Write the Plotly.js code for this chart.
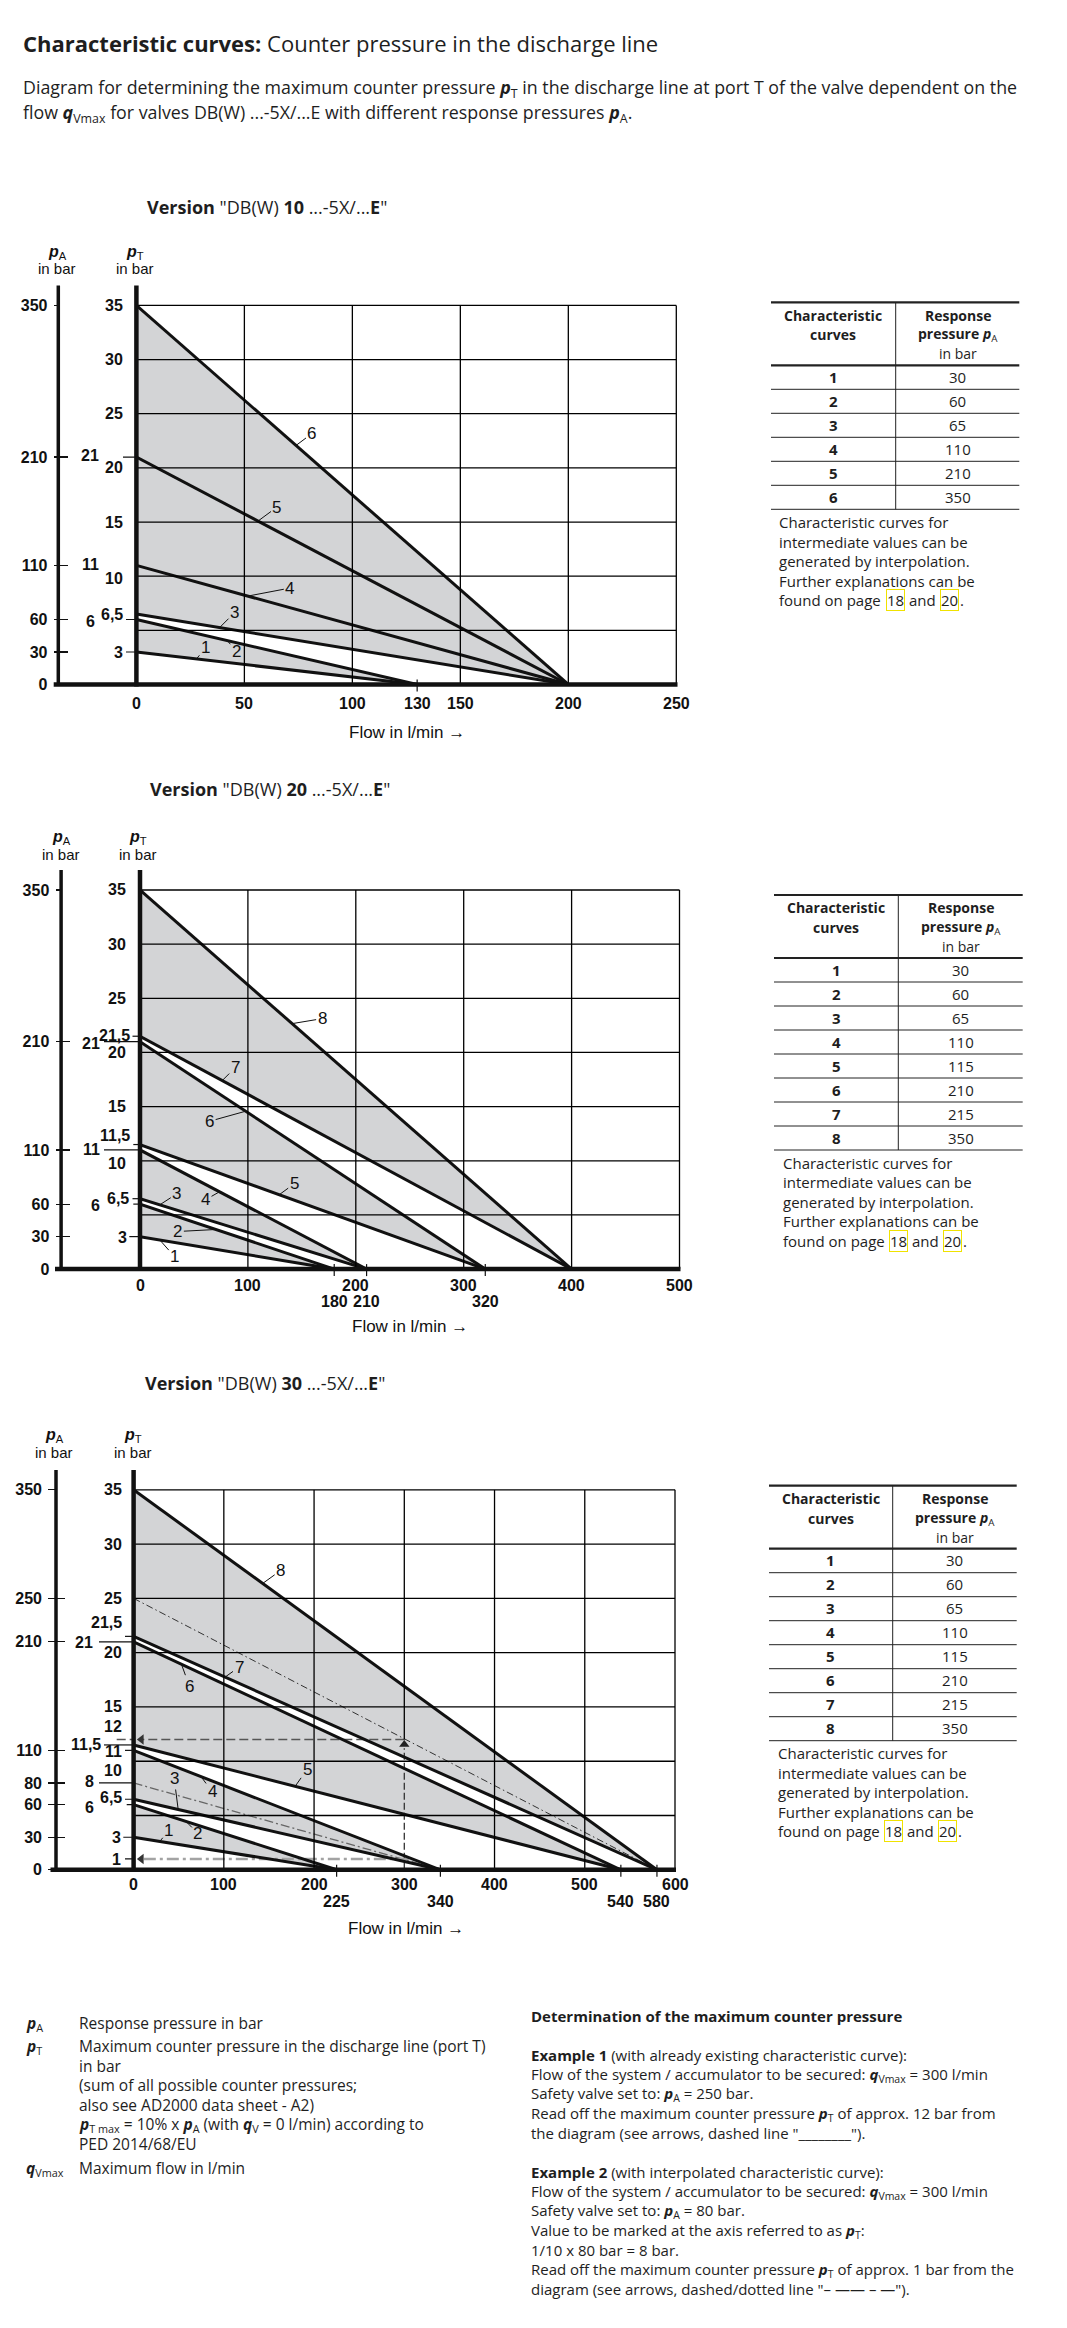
<!DOCTYPE html>
<html><head><meta charset="utf-8">
<script src="https://cdn.plot.ly/plotly-3.0.1.min.js"></script>
<style>html,body{margin:0;padding:0;background:#fff}#page{width:1067px;height:2328px}</style>
</head><body><div id="page"></div>
<script>
// ================= DATA =================
const headerTitle = '<b>Characteristic curves:</b> Counter pressure in the discharge line';
const headerLine1 = 'Diagram for determining the maximum counter pressure <b><i>p</i></b><sub>T</sub> in the discharge line at port T of the valve dependent on the';
const headerLine2 = 'flow <b><i>q</i></b><sub>Vmax</sub> for valves DB(W) ...-5X/...E with different response pressures <b><i>p</i></b><sub>A</sub>.';

const c1Title = '<b>Version</b> "DB(W) <b>10</b> ...-5X/...<b>E</b>"';
const c1Curves = ['1','2','3','4','5','6'];
const c1StartPT = [3, 6, 6.5, 11, 21, 35];
const c1EndFlow = [130, 130, 200, 200, 200, 200];
const c1GrayPairs = [[0,1],[2,5]];
const c1XLabels = [0, 50, 100, 130, 150, 200, 250];
const c1XLabels2 = [];
const c1XMarks = [130];
const c1XGrid = [50, 100, 150, 200];
const c1XMax = 250;
const c1PALabels = [0, 30, 60, 110, 210, 350];
const c1PTText = ['35','30','25','20','15','10','21','11','6,5','6','3'];
const c1PTVal  = [35, 30, 25, 20, 15, 10, 21, 11, 6.5, 6, 3];

const c2Title = '<b>Version</b> "DB(W) <b>20</b> ...-5X/...<b>E</b>"';
const c2Curves = ['1','2','3','4','5','6','7','8'];
const c2StartPT = [3, 6, 6.5, 11, 11.5, 21, 21.5, 35];
const c2EndFlow = [180, 180, 210, 210, 320, 320, 400, 400];
const c2GrayPairs = [[0,1],[2,3],[4,5],[6,7]];
const c2XLabels = [0, 100, 200, 300, 400, 500];
const c2XLabels2 = [180, 210, 320];
const c2XMarks = [180, 210, 320];
const c2XGrid = [100, 200, 300, 400];
const c2XMax = 500;
const c2PALabels = [0, 30, 60, 110, 210, 350];
const c2PTText = ['35','30','25','20','15','10','21,5','21','11,5','11','6,5','6','3'];
const c2PTVal  = [35, 30, 25, 20, 15, 10, 21.5, 21, 11.5, 11, 6.5, 6, 3];

const c3Title = '<b>Version</b> "DB(W) <b>30</b> ...-5X/...<b>E</b>"';
const c3Curves = ['1','2','3','4','5','6','7','8'];
const c3StartPT = [3, 6, 6.5, 11, 11.5, 21, 21.5, 35];
const c3EndFlow = [225, 225, 340, 340, 540, 540, 580, 580];
const c3GrayPairs = [[0,1],[2,3],[4,5],[6,7]];
const c3XLabels = [0, 100, 200, 300, 400, 500, 600];
const c3XLabels2 = [225, 340, 540, 580];
const c3XMarks = [225, 340, 540, 580];
const c3XGrid = [100, 200, 400, 500];
const c3XMax = 600;
const c3PALabels = [0, 30, 60, 80, 110, 210, 250, 350];
const c3PTText = ['35','30','25','21,5','21','20','15','12','11,5','11','10','8','6,5','6','3','1'];
const c3PTVal  = [35, 30, 25, 21.5, 21, 20, 15, 12, 11.5, 11, 10, 8, 6.5, 6, 3, 1];

// worked examples drawn in chart 3
const ex1StartPT = 25, ex1EndFlow = 580, ex1Flow = 300, ex1ReadPT = 12;
const ex2StartPT = 8,  ex2EndFlow = 340, ex2Flow = 300, ex2ReadPT = 1;

const pTGrid = [5, 10, 15, 20, 25, 30];
const pTMax = 35, pAMax = 350;

// tables
const t1Curves = ['1','2','3','4','5','6'];
const t1PA = [30, 60, 65, 110, 210, 350];
const t2Curves = ['1','2','3','4','5','6','7','8'];
const t2PA = [30, 60, 65, 110, 115, 210, 215, 350];
const t3Curves = ['1','2','3','4','5','6','7','8'];
const t3PA = [30, 60, 65, 110, 115, 210, 215, 350];
const noteLines = ['Characteristic curves for', 'intermediate values can be', 'generated by interpolation.', 'Further explanations can be'];
const notePages = ['18', '20'];

const legendSymbols = ['<b><i>p</i></b><sub>A</sub>', '<b><i>p</i></b><sub>T</sub>', '<b><i>q</i></b><sub>Vmax</sub>'];
const legendTexts = [
  ['Response pressure in bar'],
  ['Maximum counter pressure in the discharge line (port T)', 'in bar', '(sum of all possible counter pressures;', 'also see AD2000 data sheet - A2)',
   '<b><i>p</i></b><sub>T max</sub> = 10% x <b><i>p</i></b><sub>A</sub> (with <b><i>q</i></b><sub>V</sub> = 0 l/min) according to', 'PED 2014/68/EU'],
  ['Maximum flow in l/min']
];
const exampleLines = [
  '<b>Determination of the maximum counter pressure</b>', '',
  '<b>Example 1</b> (with already existing characteristic curve):',
  'Flow of the system / accumulator to be secured: <b><i>q</i></b><sub>Vmax</sub> = 300 l/min',
  'Safety valve set to: <b><i>p</i></b><sub>A</sub> = 250 bar.',
  'Read off the maximum counter pressure <b><i>p</i></b><sub>T</sub> of approx. 12 bar from',
  'the diagram (see arrows, dashed line "________").', '',
  '<b>Example 2</b> (with interpolated characteristic curve):',
  'Flow of the system / accumulator to be secured: <b><i>q</i></b><sub>Vmax</sub> = 300 l/min',
  'Safety valve set to: <b><i>p</i></b><sub>A</sub> = 80 bar.',
  'Value to be marked at the axis referred to as <b><i>p</i></b><sub>T</sub>:',
  '1/10 x 80 bar = 8 bar.',
  'Read off the maximum counter pressure <b><i>p</i></b><sub>T</sub> of approx. 1 bar from the',
  'diagram (see arrows, dashed/dotted line "– —— – —").'
];

// ================= PLACEMENT / STYLE =================
const W = 1067, H = 2328;
const PX = x => x / W;
const PY = y => 1 - y / H;
const FC = 'Liberation Sans, Arial, sans-serif';
const FT = 'Open Sans, Noto Sans, sans-serif';
const INK = '#111111', TXT = '#1e1e1e';
const GRAY = 'rgba(35,40,50,0.2)';

const charts = [
  { title:c1Title, curves:c1Curves, start:c1StartPT, end:c1EndFlow, gray:c1GrayPairs, xLab:c1XLabels, xLab2:c1XLabels2,
    marks:c1XMarks, grid:c1XGrid, xmax:c1XMax, pa:c1PALabels, ptText:c1PTText, ptVal:c1PTVal,
    g:{x0:136.4, x1:676.3, yTop:305.4, y0:684.5, axTop:285.4, paX:58.3, paL:53.7, paR:66.6, baseL:53.7, baseR:677.5,
       xLabY:703.4, xLab2Y:0, flowX:407, flowY:732.5, titleX:145, titleY:207.3, tY1:252.7, tY2:268, paTX:57.4, ptTX:135.4},
    pt:{'35':[125,0],'30':[125,0],'25':[125,0],'20':[125,0],'15':[125,0],'10':[125,2],'21':[101,-2],'11':[101,-1],'6,5':[125,0],'6':[96.5,1.5],'3':[125,0]},
    ptTicks:[[21,123],[6,126],[3,126]],
    lab:[[27.8,9,-11],[42.1,9,11],[38.5,15,-15],[51.6,42,-8],[56.3,19,-14],[73.9,16,-12]] },
  { title:c2Title, curves:c2Curves, start:c2StartPT, end:c2EndFlow, gray:c2GrayPairs, xLab:c2XLabels, xLab2:c2XLabels2,
    marks:c2XMarks, grid:c2XGrid, xmax:c2XMax, pa:c2PALabels, ptText:c2PTText, ptVal:c2PTVal,
    g:{x0:140, x1:679.5, yTop:890, y0:1269.1, axTop:870, paX:61.1, paL:55.5, paR:68.9, baseL:55, baseR:680.5,
       xLabY:1285.5, xLab2Y:1301.4, flowX:409.6, flowY:1326.9, titleX:147.8, titleY:788.9, tY1:837.2, tY2:854.3, paTX:61, ptTX:137.7},
    pt:{'35':[128,0],'30':[128,0],'25':[128,0],'20':[128,0],'15':[128,0],'10':[128,2.5],'21,5':[132,-1],'21':[101.5,1.6],'11,5':[132,-9],'11':[101.5,0],'6,5':[131,0],'6':[101.5,1.5],'3':[128.5,0.7]},
    ptTicks:[[21.5,132.5],[21,104],[11.5,133.3],[11,104],[6.5,132.5],[6,133.3],[3,129.3]],
    lab:[[18.3,15,17],[70.3,-38,2],[18.3,17,-11],[73.7,-14,8],[129,15,-11],[97.9,-36,10],[76.2,13,-13],[141,30,-5]] },
  { title:c3Title, curves:c3Curves, start:c3StartPT, end:c3EndFlow, gray:c3GrayPairs, xLab:c3XLabels, xLab2:c3XLabels2,
    marks:c3XMarks, grid:c3XGrid, xmax:c3XMax, pa:c3PALabels, ptText:c3PTText, ptVal:c3PTVal,
    g:{x0:133.6, x1:675, yTop:1489.8, y0:1869.8, axTop:1469.9, paX:56, paL:48.2, paR:64.3, baseL:50.5, baseR:676,
       xLabY:1884.8, xLab2Y:1901, flowX:405.9, flowY:1928.9, titleX:143.3, titleY:1383.3, tY1:1435.2, tY2:1452.2, paTX:54.2, ptTX:133.2},
    pt:{'35':[123.5,0],'30':[123.5,0],'25':[123.5,0],'20':[123.5,0],'15':[123.5,0],'21,5':[124,-14],'21':[95,0.5],'12':[123.5,-12.8],'11,5':[103,0],'11':[124,1.4],'10':[123.5,8.8],'8':[95.5,-1],'6,5':[124,-1.5],'6':[95.5,2.5],'3':[122.7,0],'1':[122.7,1]},
    ptTicks:[[21.5,125],[21,99],[11.5,104],[11,125],[8,99],[6.5,125],[6,126.7],[3,123.3],[1,125]],
    lab:[[29,9,-11],[58,12,12],[49.4,-4,-31],[74.8,11,15],[179,12,-17],[53,8,22],[101.3,14,-10],[143,18,-13]] }
];

const tables = [
  { curves:t1Curves, pa:t1PA, left:771, right:1019.3, div:895.7, top:302.3 },
  { curves:t2Curves, pa:t2PA, left:774, right:1022.7, div:898.3, top:895 },
  { curves:t3Curves, pa:t3PA, left:769, right:1016.7, div:892.7, top:1485.7 }
];

// ================= BUILD =================
const traces = [], shapes = [], annotations = [];
const layout = { width:W, height:H, margin:{l:0,r:0,t:0,b:0,pad:0}, paper_bgcolor:'#ffffff',
  plot_bgcolor:'rgba(0,0,0,0)', showlegend:false, hovermode:false, shapes, annotations };

function ann(o) {
  annotations.push(Object.assign({showarrow:false, xanchor:'center', yanchor:'middle',
    font:{family:FT, size:15, color:TXT}}, o));
}
function pTxt(text, x, y, o) { ann(Object.assign({xref:'paper', yref:'paper', x:PX(x), y:PY(y), text}, o || {})); }
function pLine(x0, y0, x1, y1, w, color, dash) {
  shapes.push({type:'line', xref:'paper', yref:'paper', x0:PX(x0), x1:PX(x1), y0:PY(y0), y1:PY(y1),
    line:{color:color || INK, width:w, dash:dash || 'solid'}});
}
function gridLine(xa, ya, x0, y0, x1, y1) {
  shapes.push({ type:'line', xref:xa, yref:ya, layer:'above', x0, y0, x1, y1, line:{color:'#000', width:1.3} });
}

charts.forEach((c, idx) => {
  const k = idx + 1, g = c.g;
  const xa = k === 1 ? 'x' : 'x' + k, ya = k === 1 ? 'y' : 'y' + k;
  const paOut = 'y' + (k + 3), paIn = 'y' + (k + 6);
  layout[k === 1 ? 'xaxis' : 'xaxis' + k] = { domain:[PX(g.x0), PX(g.x1)], range:[0, c.xmax], anchor:ya,
    showticklabels:false, ticks:'', showgrid:false, zeroline:false, showline:false, fixedrange:true };
  layout[k === 1 ? 'yaxis' : 'yaxis' + k] = { domain:[PY(g.y0), PY(g.yTop)], range:[0, pTMax], anchor:xa,
    showticklabels:false, ticks:'', showgrid:false, zeroline:false, showline:false, fixedrange:true };
  const paCommon = { overlaying:ya, anchor:'free', position:PX(g.paX), side:'left', range:[0, pAMax],
    tickmode:'array', tickvals:c.pa, showgrid:false, zeroline:false, showline:false, tickwidth:1.2, tickcolor:INK, fixedrange:true };
  layout['yaxis' + (k + 3)] = Object.assign({}, paCommon, { ticks:'outside', ticklen:g.paX - g.paL,
    ticktext:c.pa.map(v => '<b>' + v + '</b>'), tickfont:{family:FC, size:16, color:INK}, ticklabelstandoff:3 });
  layout['yaxis' + (k + 6)] = Object.assign({}, paCommon, { ticks:'inside', ticklen:g.paR - g.paX, showticklabels:false });

  // grey bands between curve pairs
  c.gray.forEach(([a, b]) => traces.push({ x:[0, 0, c.end[b], c.end[a]], y:[c.start[a], c.start[b], 0, 0],
    xaxis:xa, yaxis:ya, mode:'lines', fill:'toself', fillcolor:GRAY, line:{width:0, color:'rgba(0,0,0,0)'}, hoverinfo:'skip' }));

  // grid lines (top layer so they cross the grey bands)
  c.grid.forEach(v => gridLine(xa, ya, v, 0, v, pTMax));
  pTGrid.forEach(v => gridLine(xa, ya, 0, v, c.xmax, v));
  if (k === 3) gridLine(xa, ya, ex1Flow, ex1ReadPT, ex1Flow, pTMax);

  // frame top / right
  pLine(g.x0, g.yTop, g.x1, g.yTop, 1.3, '#000');
  pLine(g.x1, g.yTop, g.x1, g.y0, 1.3, '#000');

  // examples
  if (k === 3) {
    traces.push({ x:[0, ex1EndFlow], y:[ex1StartPT, 0], xaxis:xa, yaxis:ya, mode:'lines', hoverinfo:'skip',
      line:{color:'#333', width:1, dash:'7px,3px,1.5px,3px'} });
    traces.push({ x:[ex1Flow, ex1Flow], y:[0, ex1ReadPT - 0.8], xaxis:xa, yaxis:ya, mode:'lines', hoverinfo:'skip',
      line:{color:'#333', width:1.3, dash:'7px,3px'} });
    traces.push({ x:[ex1Flow, 9], y:[ex1ReadPT, ex1ReadPT], xaxis:xa, yaxis:ya, mode:'lines', hoverinfo:'skip',
      line:{color:'#555', width:1.4, dash:'9px,4px'} });
    shapes.push({ type:'line', xref:'paper', yref:ya, x0:PX(116.7), x1:PX(g.x0), y0:ex1ReadPT, y1:ex1ReadPT,
      line:{color:'#555', width:1.4, dash:'9px,4px'} });
    traces.push({ x:[0, ex2EndFlow], y:[ex2StartPT, 0], xaxis:xa, yaxis:ya, mode:'lines', hoverinfo:'skip',
      line:{color:'#666', width:1.3, dash:'9px,3px,2px,3px'} });
    traces.push({ x:[ex2Flow + 5, 9], y:[ex2ReadPT, ex2ReadPT], xaxis:xa, yaxis:ya, mode:'lines', hoverinfo:'skip',
      line:{color:'#a3a3a3', width:2.5, dash:'12px,4px,3px,4px'} });
    traces.push({ x:[ex1Flow], y:[ex1ReadPT - 0.45], xaxis:xa, yaxis:ya, mode:'markers', hoverinfo:'skip',
      marker:{symbol:'triangle-up', size:9, color:'#222', line:{width:0}} });
    traces.push({ x:[8.6, 8.6], y:[ex1ReadPT, ex2ReadPT], xaxis:xa, yaxis:ya, mode:'markers', hoverinfo:'skip', cliponaxis:false,
      marker:{symbol:'triangle-left', size:9, color:'#333', line:{width:0}} });
  }

  // characteristic curves
  c.curves.forEach((name, i) => traces.push({ x:[0, c.end[i]], y:[c.start[i], 0], xaxis:xa, yaxis:ya,
    mode:'lines', line:{color:INK, width:3}, hoverinfo:'skip', name:'curve ' + name }));

  // pA axes anchor traces
  traces.push({x:[null], y:[null], xaxis:xa, yaxis:paOut, mode:'markers', hoverinfo:'skip'});
  traces.push({x:[null], y:[null], xaxis:xa, yaxis:paIn, mode:'markers', hoverinfo:'skip'});

  // axes lines
  pLine(g.x0, g.axTop, g.x0, g.y0 + 2, 4.5);
  pLine(g.paX, g.axTop, g.paX, g.y0, 3.5);
  pLine(g.baseL, g.y0, g.baseR, g.y0, 4.5);

  // extra x marks
  c.marks.forEach(v => shapes.push({ type:'line', xref:xa, yref:'paper', x0:v, x1:v, y0:PY(g.y0 - 5), y1:PY(g.y0 + 7),
    line:{color:INK, width:1.2} }));

  // x labels
  c.xLab.forEach(v => ann({ xref:xa, yref:'paper', x:v, y:PY(g.xLabY), text:'<b>' + v + '</b>', font:{family:FC, size:16, color:INK} }));
  c.xLab2.forEach(v => ann({ xref:xa, yref:'paper', x:v, y:PY(g.xLab2Y), text:'<b>' + v + '</b>', font:{family:FC, size:16, color:INK} }));

  // pT labels
  c.ptText.forEach((t, i) => {
    const p = c.pt[t];
    ann({ xref:'paper', yref:ya, x:PX(p[0]), y:c.ptVal[i], xanchor:'right', yshift:-p[1], text:'<b>' + t + '</b>',
      font:{family:FC, size:16, color:INK} });
  });
  c.ptTicks.forEach(([v, xl]) => shapes.push({ type:'line', xref:'paper', yref:ya, x0:PX(xl), x1:PX(g.x0), y0:v, y1:v,
    line:{color:INK, width:1.2} }));

  // axis titles
  pTxt('<b><i>p</i></b><sub>A</sub>', g.paTX, g.tY1, {font:{family:FC, size:16, color:INK}});
  pTxt('in bar', g.paTX, g.tY2, {font:{family:FC, size:15, color:INK}});
  pTxt('<b><i>p</i></b><sub>T</sub>', g.ptTX, g.tY1, {font:{family:FC, size:16, color:INK}});
  pTxt('in bar', g.ptTX, g.tY2, {font:{family:FC, size:15, color:INK}});
  pTxt('Flow in l/min →', g.flowX, g.flowY, {font:{family:FC, size:17, color:INK}});
  pTxt(c.title, g.titleX, g.titleY, {xanchor:'left', font:{family:FT, size:18, color:TXT}});

  // curve labels with leaders
  c.lab.forEach(([d, ax, ay], i) => ann({ xref:xa, yref:ya, x:d, y:c.start[i] * (1 - d / c.end[i]), text:c.curves[i],
    showarrow:true, arrowhead:0, arrowwidth:1, arrowcolor:INK, ax, ay, standoff:0, font:{family:FC, size:17, color:INK} }));
});

// tables
tables.forEach(t => {
  const headB = t.top + 63, rowH = 24, n = t.curves.length, bottom = headB + rowH * n;
  const c1x = (t.left + t.div) / 2, c2x = (t.div + t.right) / 2;
  pLine(t.left, t.top, t.right, t.top, 2.2, '#222');
  pLine(t.left, headB, t.right, headB, 2.2, '#222');
  for (let i = 1; i <= n; i++) pLine(t.left, headB + rowH * i, t.right, headB + rowH * i, 1, '#222');
  pLine(t.div, t.top, t.div, bottom, 1, '#222');
  pTxt('<b>Characteristic</b>', c1x, t.top + 13, {font:{family:FT, size:14, color:TXT}});
  pTxt('<b>curves</b>', c1x, t.top + 32.5, {font:{family:FT, size:14, color:TXT}});
  pTxt('<b>Response</b>', c2x, t.top + 13, {font:{family:FT, size:14, color:TXT}});
  pTxt('<b>pressure <i>p</i></b><sub>A</sub>', c2x, t.top + 32.5, {font:{family:FT, size:14, color:TXT}});
  pTxt('in bar', c2x, t.top + 51.5, {font:{family:FT, size:14, color:TXT}});
  t.curves.forEach((cv, i) => {
    const yc = headB + rowH * (i + 0.5) - 0.3;
    pTxt('<b>' + cv + '</b>', c1x, yc, {font:{family:FT, size:15, color:TXT}});
    pTxt(String(t.pa[i]), c2x, yc, {font:{family:FT, size:15, color:TXT}});
  });
  const nl = t.left + 7.5;
  noteLines.forEach((s, j) => pTxt(s, nl - 1, bottom + 12.7 + 19.5 * j, {xanchor:'left', font:{family:FT, size:15, color:TXT}}));
  const ly = bottom + 12.7 + 19.5 * noteLines.length;
  pTxt('found on page', nl - 1, ly, {xanchor:'left', font:{family:FT, size:15, color:TXT}});
  pTxt(notePages[0], nl + 116.8, ly, {bordercolor:'#f0e200', borderwidth:1, borderpad:0, font:{family:FT, size:15, color:TXT}});
  pTxt('and', nl + 143.5, ly, {font:{family:FT, size:15, color:TXT}});
  pTxt(notePages[1], nl + 170.6, ly, {bordercolor:'#f0e200', borderwidth:1, borderpad:0, font:{family:FT, size:15, color:TXT}});
  pTxt('.', nl + 179.8, ly, {xanchor:'left', font:{family:FT, size:15, color:TXT}});
});

// header
pTxt(headerTitle, 21, 43.3, {xanchor:'left', font:{family:FT, size:22, color:TXT}});
pTxt(headerLine1, 21, 88.3, {xanchor:'left', font:{family:FT, size:17.8, color:TXT}});
pTxt(headerLine2, 21, 113.3, {xanchor:'left', font:{family:FT, size:17.8, color:TXT}});

// legend of symbols (bottom left)
const legendY = [2023.3, 2046, 2168.3];
legendSymbols.forEach((s, i) => {
  pTxt(s, 24, legendY[i], {xanchor:'left', font:{family:FT, size:15.5, color:TXT}});
  legendTexts[i].forEach((l, j) => pTxt(l, 77.3, legendY[i] + 19.65 * j, {xanchor:'left', font:{family:FT, size:15.5, color:TXT}}));
});

// examples (bottom right)
exampleLines.forEach((l, j) => { if (l) pTxt(l, 529.2, 2016 + 19.53 * j, {xanchor:'left', font:{family:FT, size:15, color:TXT}}); });

Plotly.newPlot('page', traces, layout, {staticPlot:true});
</script>
</body></html>
